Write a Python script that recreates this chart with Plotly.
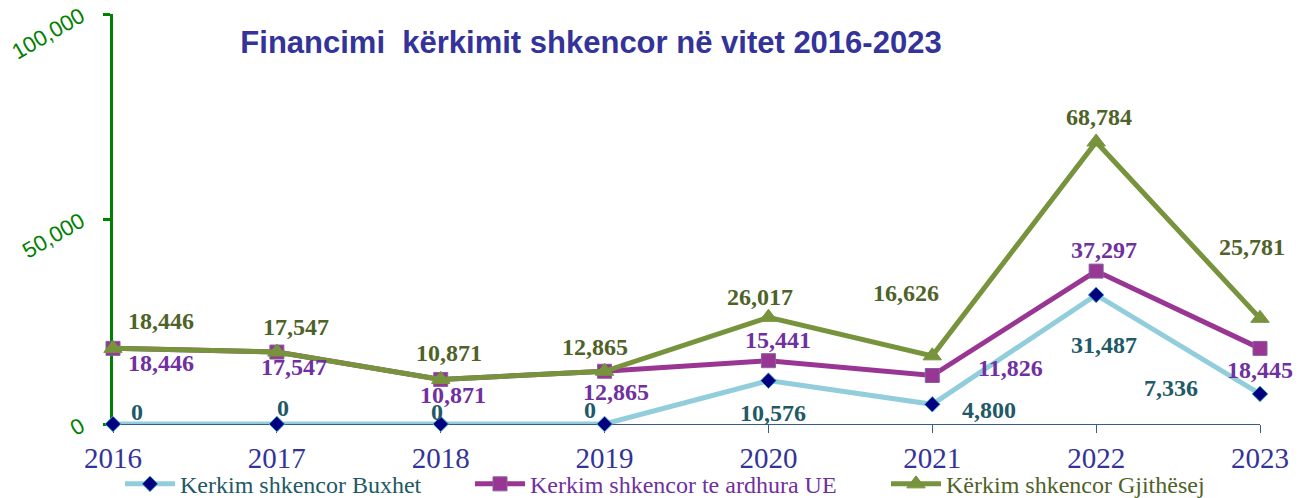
import plotly.graph_objects as go

# ---- data ----
years = [2016, 2017, 2018, 2019, 2020, 2021, 2022, 2023]
buxhet = [0, 0, 0, 0, 10576, 4800, 31487, 7336]
ue = [18446, 17547, 10871, 12865, 15441, 11826, 37297, 18445]
total = [18446, 17547, 10871, 12865, 26017, 16626, 68784, 25781]
y_ticks = [0, 50000, 100000]
names = ["Kerkim shkencor Buxhet", "Kerkim shkencor te ardhura UE", "Kërkim shkencor Gjithësej"]
title = "Financimi\u00a0 kërkimit shkencor në vitet 2016-2023"

# ---- label offsets in pixels (xshift, yshift) ----
off_b = [(24, 12), (6, 16), (-4, 12), (-15, 14), (5, -32), (57, -6), (8, -50), (-89, 6)]
off_u = [(48, -15), (17, -15), (12, -16), (11, -21), (10, 21), (78, 8), (8, 21), (0, -22)]
off_t = [(48, 27), (19, 25), (8, 26), (-10, 24), (-8, 20), (-26, 63), (3, 25), (-8, 71)]

serif = "Liberation Serif"
sans = "Liberation Sans"

styles = [
    dict(line="#92CDDC", marker=dict(symbol="diamond", size=12, color="#000080",
                                      line=dict(color="#4BACC6", width=1)),
         text="#215967", legend="legend"),
    dict(line="#993592", marker=dict(symbol="square", size=14, color="#993592",
                                      line=dict(color="#8064A2", width=1)),
         text="#7030A0", legend="legend2"),
    dict(line="#77933C", marker=dict(symbol="triangle-up", size=16, color="#77933C",
                                      line=dict(color="#77933C", width=1)),
         text="#4F6228", legend="legend3"),
]

fig = go.Figure()
series = [buxhet, ue, total]
for vals, name, st in zip(series, names, styles):
    fig.add_trace(go.Scatter(
        x=years, y=vals, name=name, mode="lines+markers",
        line=dict(color=st["line"], width=5),
        marker=st["marker"], cliponaxis=False, legend=st["legend"],
    ))

for vals, offs, st in zip(series, [off_b, off_u, off_t], styles):
    for x, v, (dx, dy) in zip(years, vals, offs):
        fig.add_annotation(
            x=x, y=v, text=f"{v:,}", showarrow=False,
            xshift=dx, yshift=dy, xanchor="center", yanchor="middle",
            font=dict(family=serif, size=24, color=st["text"], weight="bold"),
        )

# page body adds an 8px margin; compensate so the figure lands where the reference is
BODY = 8
W, H = 1302 - BODY, 498 - BODY
ml, mt = 113 - BODY, 14 - BODY
plot_right, plot_bottom = 1260 - BODY, 424 - BODY
mr, mb = W - plot_right, H - plot_bottom
pw = plot_right - ml


def px2paper(px):
    return (px - BODY - ml) / pw


legend_common = dict(orientation="h", yanchor="middle", xanchor="left", y=-0.147,
                     bgcolor="rgba(0,0,0,0)", itemwidth=50,
                     font=dict(family=serif, size=24))

fig.update_layout(
    width=W, height=H,
    margin=dict(l=ml, r=mr, t=mt, b=mb, autoexpand=False),
    paper_bgcolor="white", plot_bgcolor="white",
    title=dict(text=title, x=px2paper(591), xref="paper", xanchor="center",
               y=1 - (42 - BODY) / H, yref="container", yanchor="middle",
               font=dict(family=sans, size=31, color="#333399", weight="bold")),
    xaxis=dict(range=[2016, 2023], tickvals=years, ticktext=[str(y) for y in years],
               showgrid=False, zeroline=False, showline=True, linecolor="#385D8A",
               linewidth=1, ticks="outside", ticklen=8, tickcolor="#385D8A",
               tickfont=dict(family=serif, size=29, color="#333399"),
               ticklabeloverflow="allow",
               layer="below traces", automargin=False),
    yaxis=dict(range=[0, 100000], tickvals=y_ticks, tickformat=",",
               showgrid=False, zeroline=False, showline=True, linecolor="#008000",
               linewidth=2.5, ticks="outside", ticklen=7, tickcolor="#008000",
               tickwidth=2.5, tickangle=-30, ticklabelstandoff=18,
               ticklabeloverflow="allow",
               tickfont=dict(family=sans, size=22, color="#008000"),
               layer="below traces", automargin=False),
    legend=dict(legend_common, x=px2paper(120), font=dict(family=serif, size=24, color="#215967")),
    legend2=dict(legend_common, x=px2paper(470), font=dict(family=serif, size=24, color="#7030A0")),
    legend3=dict(legend_common, x=px2paper(886), font=dict(family=serif, size=24, color="#4F6228")),
    showlegend=True,
)

fig.write_html("out.html")
